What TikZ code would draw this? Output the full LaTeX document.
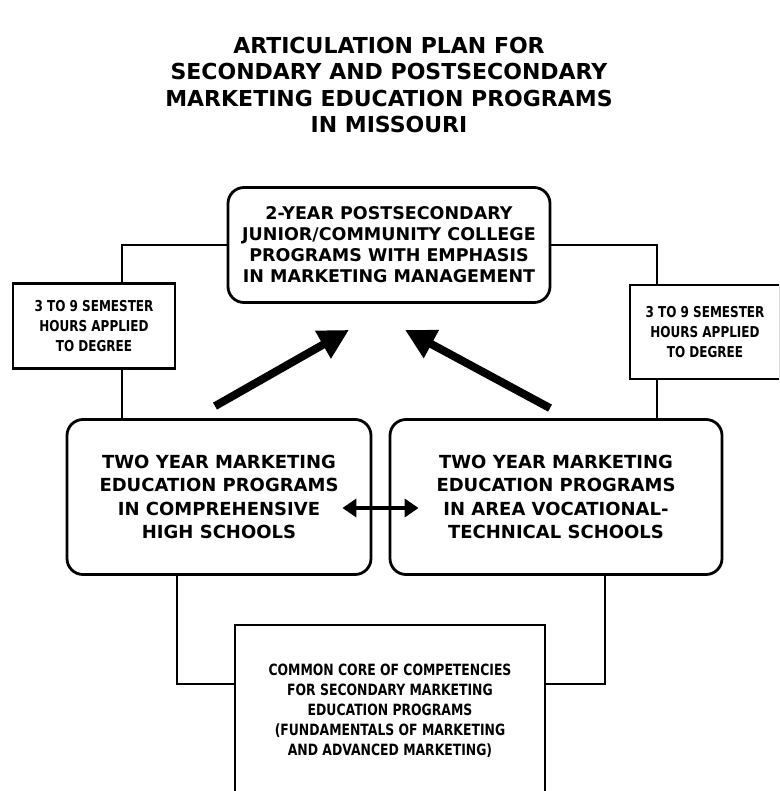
\documentclass[tikz,border=0pt]{standalone}
\usepackage{fontspec}
\setmainfont{DejaVu Sans}
\newfontfamily\narrowfont{DejaVu Sans}[FakeStretch=0.8]
\usetikzlibrary{arrows.meta}

\begin{document}
\begin{tikzpicture}[x=1pt, y=-1pt,
                box/.style={draw, line width=2.8pt, align=center},
                roundbox/.style={box, rounded corners=16pt},
                wire/.style={line width=1.3pt},
                bigarrow/.style={line width=8pt, -{Triangle[length=30pt,width=30pt]}},
                twoway/.style={line width=4.5pt, {Triangle[length=14pt,width=18pt]}-{Triangle[length=14pt,width=18pt]}}]
                \clip (0,0) rectangle (779,791);
                \node [align=center, font=\bfseries\fontsize{22}{26.5}\selectfont] (title) at (389,85) {ARTICULATION PLAN FOR\\SECONDARY AND POSTSECONDARY\\MARKETING EDUCATION PROGRAMS\\IN MISSOURI};
                % boxes
                \node [roundbox, minimum width=322, minimum height=115, font=\bfseries\fontsize{17.5}{21}\selectfont] (post) at (389,245) {2-YEAR POSTSECONDARY\\JUNIOR/COMMUNITY COLLEGE\\PROGRAMS WITH EMPHASIS\\IN MARKETING MANAGEMENT};
                \node [box, minimum width=162, minimum height=85, font=\narrowfont\bfseries\fontsize{15}{20}\selectfont] (semL) at (94,326) {3 TO 9 SEMESTER\\HOURS APPLIED\\TO DEGREE};
                \node [box, minimum width=150, minimum height=94, font=\narrowfont\bfseries\fontsize{15}{20}\selectfont] (semR) at (705,332) {3 TO 9 SEMESTER\\HOURS APPLIED\\TO DEGREE};
                \node [roundbox, minimum width=304, minimum height=155, font=\bfseries\fontsize{18}{23.5}\selectfont] (hsL) at (219,497) {TWO YEAR MARKETING\\EDUCATION PROGRAMS\\IN COMPREHENSIVE\\HIGH SCHOOLS};
                \node [roundbox, minimum width=332, minimum height=155, font=\bfseries\fontsize{18}{23.5}\selectfont] (avtR) at (556,497) {TWO YEAR MARKETING\\EDUCATION PROGRAMS\\IN AREA VOCATIONAL-\\TECHNICAL SCHOOLS};
                \node [box, minimum width=310, minimum height=172, font=\narrowfont\bfseries\fontsize{15.5}{20}\selectfont] (core) at (390,711) {COMMON CORE OF COMPETENCIES\\FOR SECONDARY MARKETING\\EDUCATION PROGRAMS\\(FUNDAMENTALS OF MARKETING\\AND ADVANCED MARKETING)};
                % thin lines
                \draw [wire] (post.west) -| ([xshift=28]semL.north);
                \draw [wire] ([xshift=28]semL.south) -- ([xshift=28]semL.south |- hsL.north);
                \draw [wire] (post.east) -| ([xshift=-48]semR.north);
                \draw [wire] ([xshift=-48]semR.south) -- ([xshift=-48]semR.south |- avtR.north);
                \draw [wire] ([xshift=-42]hsL.south) |- ([yshift=27]core.west);
                \draw [wire] ([xshift=49]avtR.south) |- ([yshift=27]core.east);
                % arrows
                \draw [bigarrow] ([xshift=-4,yshift=12]hsL.north) -- ([xshift=-40,yshift=-26]post.south);
                \draw [bigarrow] ([xshift=-6,yshift=10]avtR.north) -- ([xshift=16,yshift=-26]post.south);
                \draw [twoway] ([xshift=-30,yshift=-11]hsL.east) -- ([xshift=30,yshift=-11]avtR.west);
            \end{tikzpicture}
\end{document}
